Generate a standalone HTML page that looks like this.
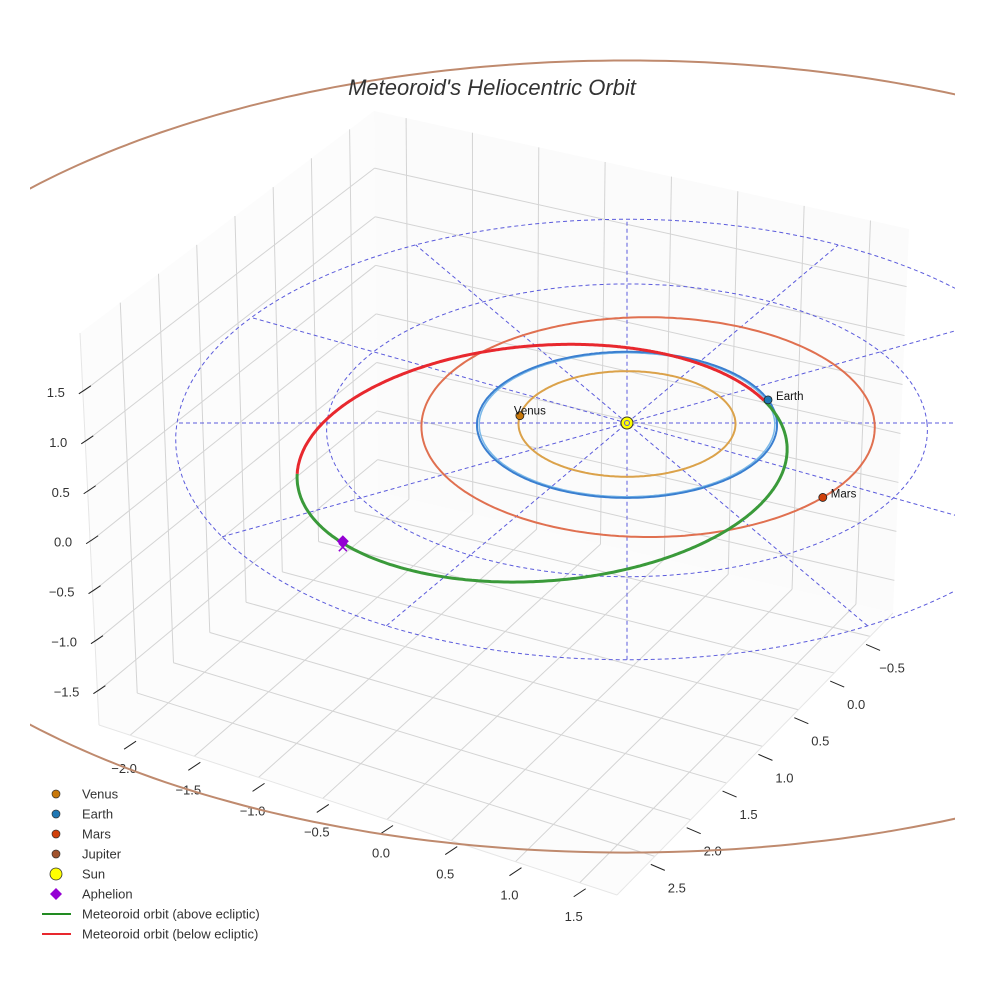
<!DOCTYPE html>
<html><head><meta charset="utf-8"><style>
html,body{margin:0;padding:0;background:#fff;}
svg{display:block;font-family:"Liberation Sans",sans-serif;}
</style></head><body>
<svg id="chart" width="984" height="984" viewBox="0 0 984 984">
<defs><clipPath id="clip"><rect x="30" y="0" width="925" height="984"/></clipPath></defs>
<g id="box"></g>
<g id="ticks"></g>
<g id="plot" clip-path="url(#clip)"></g>
<text x="492" y="95" text-anchor="middle" font-size="22" font-style="italic" fill="#333">Meteoroid's Heliocentric Orbit</text>
<g id="legend"></g>
</svg>
<script>
// ---- data ----
const planetNames = ["Venus","Earth","Mars","Jupiter"];
const planetA = [0.723, 1.0, 1.51, 5.4];
const planetE = [0.0, 0.0, 0.093, 0.05];
const planetPeriAngle = [0, 0, 180, 90];
const planetAngle = [188, -18.6, 38, 200];
const orbitColors = ["#dba24a","#3a7fd0","#e07050","#bf8a6e"];
const markerColors = ["#c8780a","#1f77b4","#d0400a","#a0522d"];
const meteorA = 1.68, meteorE = 0.435, meteorPeri = -41;
const redNu = [-156.6, 22.4];
const greenNu = [22.4, 203.4];
const gridRadii = [2, 3];
const radialAngles = [0,30,60,90,120,150];
const xTicks = [-2.0,-1.5,-1.0,-0.5,0.0,0.5,1.0,1.5];
const yTicks = [-0.5,0.0,0.5,1.0,1.5,2.0,2.5];
const zTicks = [-1.5,-1.0,-0.5,0.0,0.5,1.0,1.5];
const legendLabels = ["Venus","Earth","Mars","Jupiter","Sun","Aphelion","Meteoroid orbit (above ecliptic)","Meteoroid orbit (below ecliptic)"];

const NS="http://www.w3.org/2000/svg";
function mk(tag,attrs,parent){const e=document.createElementNS(NS,tag);for(const k in attrs)e.setAttribute(k,attrs[k]);parent.appendChild(e);return e;}
const CX=627, CY=423, SX=150, SY=73, P=0.025;
function proj(X,Y){const f=1/(1-P*Y);return [CX+SX*X*f, CY+SY*Y*f];}
function polar(r,thDeg){const t=thDeg*Math.PI/180;return proj(r*Math.cos(t), r*Math.sin(t));}
function conicR(a,e,nuDeg){return a*(1-e*e)/(1+e*Math.cos(nuDeg*Math.PI/180));}
function pathFrom(pts){return pts.map((p,i)=>(i?"L":"M")+p[0].toFixed(1)+","+p[1].toFixed(1)).join("");}

// ---- box ----
const box=document.getElementById('box');
const BT=[374,111], BB=[378,492], RT=[909,229], RB=[893,613], FT=[80,333], FB=[99,725], FR=[617,895];
const lerp=(a,b,t)=>[a[0]+(b[0]-a[0])*t,a[1]+(b[1]-a[1])*t];
mk('polygon',{points:[FT,BT,BB,FB].map(p=>p.join(',')).join(' '),fill:'#fcfcfc',stroke:'none'},box);
mk('polygon',{points:[BT,RT,RB,BB].map(p=>p.join(',')).join(' '),fill:'#fbfbfb',stroke:'none'},box);
mk('polygon',{points:[BB,RB,FR,FB].map(p=>p.join(',')).join(' '),fill:'#fcfcfc',stroke:'none'},box);
const xt=x=>0.06+(x+2)*0.248, yt=y=>0.083+(y+0.5)*0.26, zt=z=>0.15+(1.5-z)*0.255;
const gl={stroke:'#d4d4d4','stroke-width':1,fill:'none'};
function line(a,b,attrs,parent,name){const l=mk('line',Object.assign({x1:a[0],y1:a[1],x2:b[0],y2:b[1]},attrs),parent);return l;}
xTicks.forEach(x=>{const t=xt(x);
  line(lerp(BT,RT,t),lerp(BB,RB,t),gl,box,'back-grid-x');
  line(lerp(BB,RB,t),lerp(FB,FR,t),gl,box,'floor-grid-x');});
yTicks.forEach(y=>{const t=yt(y);
  line(lerp(BT,FT,t),lerp(BB,FB,t),gl,box,'left-grid-y');
  line(lerp(BB,FB,t),lerp(RB,FR,t),gl,box,'floor-grid-y');});
zTicks.forEach(z=>{const t=zt(z);
  const lf=lerp(FT,FB,t), lb=lerp(BT,BB,t), rb=lerp(RT,RB,t);
  line(lf,lb,gl,box,'left-grid-z'); line(lb,rb,gl,box,'back-grid-z');});
const el={stroke:'#e6e6e6','stroke-width':1};
line(FB,FR,el,box,'x-axis-line'); line(RB,FR,el,box,'y-axis-line'); line(FT,FB,el,box,'z-axis-line');

// ---- ticks ----
const tg=document.getElementById('ticks');
const tk={stroke:'#222','stroke-width':1};
xTicks.forEach((x,i)=>{const p=lerp(FB,FR,xt(x));
  line([p[0]+6,p[1]+6],[p[0]-6,p[1]+14],tk,tg,'x-tick');
  const t=mk('text',{x:p[0]-6,y:p[1]+38,'font-size':13,'text-anchor':'middle',fill:'#333'},tg);t.textContent=x.toFixed(1).replace('-','\u2212');
  });
yTicks.forEach(y=>{const p=lerp(RB,FR,yt(y));
  line([p[0]-4,p[1]+8],[p[0]+10,p[1]+14],tk,tg,'y-tick');
  const t=mk('text',{x:p[0]+22,y:p[1]+36,'font-size':13,'text-anchor':'middle',fill:'#333'},tg);t.textContent=y.toFixed(1).replace('-','\u2212');
  });
zTicks.forEach(z=>{const p=lerp(FT,FB,zt(z));
  line([p[0]+8,p[1]-6],[p[0]-4,p[1]+2],tk,tg,'z-tick');
  const t=mk('text',{x:p[0]-18,y:p[1]+5,'font-size':13,'text-anchor':'end',fill:'#333'},tg);t.textContent=z.toFixed(1).replace('-','\u2212');
  });

// ---- plot ----
const pg=document.getElementById('plot');
function ellipsePts(a,e,peri,n0,n1){const pts=[];const N=360;for(let i=0;i<=N;i++){const nu=n0+(n1-n0)*i/N;pts.push(polar(conicR(a,e,nu),peri+nu));}return pts;}
gridRadii.forEach(r=>{const p=mk('path',{d:pathFrom(ellipsePts(r,0,0,0,360))+'Z',fill:'none',stroke:'#5b5bdc','stroke-width':1,'stroke-dasharray':'4,3'},pg);
  });
radialAngles.forEach(a=>{const R=gridRadii[gridRadii.length-1];
  const p=mk('path',{d:pathFrom([polar(a===0?2*R:R,a),polar(R,a+180)]),fill:'none',stroke:'#5b5bdc','stroke-width':1,'stroke-dasharray':'4,3'},pg);
  });
planetNames.forEach((n,i)=>{
  if(n==='Earth'){const q=mk('path',{d:pathFrom(ellipsePts(planetA[i]*0.985,planetE[i],planetPeriAngle[i],0,360))+'Z',fill:'none',stroke:'#7ab8e8','stroke-width':1.5},pg);
    }
  const p=mk('path',{d:pathFrom(ellipsePts(planetA[i],planetE[i],planetPeriAngle[i],0,360))+'Z',fill:'none',stroke:orbitColors[i],'stroke-width':2},pg);
  });
const red=mk('path',{d:pathFrom(ellipsePts(meteorA,meteorE,meteorPeri,redNu[0],redNu[1])),fill:'none',stroke:'#e8282e','stroke-width':3},pg);

const green=mk('path',{d:pathFrom(ellipsePts(meteorA,meteorE,meteorPeri,greenNu[0],greenNu[1])),fill:'none',stroke:'#3a9a3a','stroke-width':3},pg);

planetNames.forEach((n,i)=>{
  const nu=planetAngle[i]-planetPeriAngle[i];
  const p=polar(conicR(planetA[i],planetE[i],nu),planetAngle[i]);
  const c=mk('circle',{cx:p[0],cy:p[1],r:4,fill:markerColors[i],stroke:'#222','stroke-width':0.8},pg);
  
  if(n!=='Jupiter'){const t=mk('text',{x:p[0]+(n==='Venus'?-6:8),y:p[1]+(n==='Venus'?-1:0),'font-size':11.5,fill:'#111'},pg);t.textContent=n;
    }});
const sun=mk('circle',{cx:CX,cy:CY,r:6,fill:'#ffff00',stroke:'#333','stroke-width':1},pg);

const sun2=mk('circle',{cx:CX,cy:CY,r:2.5,fill:'none',stroke:'#5b5bdc','stroke-width':1},pg);

const ap=polar(meteorA*(1+meteorE),meteorPeri+180);
const ax=mk('path',{d:`M${ap[0]-4},${ap[1]}L${ap[0]+4},${ap[1]+8}M${ap[0]+4},${ap[1]}L${ap[0]-4},${ap[1]+8}`,stroke:'#9400d3','stroke-width':1.5},pg);

const ad=mk('path',{d:`M${ap[0]},${ap[1]-8}L${ap[0]+6},${ap[1]-2}L${ap[0]},${ap[1]+4}L${ap[0]-6},${ap[1]-2}Z`,fill:'#9400d3'},pg);


// ---- legend ----
const lg=document.getElementById('legend');
legendLabels.forEach((lab,i)=>{const y=794+i*20;
  const g=mk('g',{},lg);
  if(i<4){mk('circle',{cx:56,cy:y,r:4,fill:markerColors[i],stroke:'#333','stroke-width':0.7},g);}
  else if(i===4){mk('circle',{cx:56,cy:y,r:6,fill:'#ffff00',stroke:'#333','stroke-width':0.8},g);}
  else if(i===5){mk('path',{d:`M56,${y-6}L62,${y}L56,${y+6}L50,${y}Z`,fill:'#9400d3'},g);}
  else {mk('line',{x1:42,y1:y,x2:71,y2:y,stroke:i===6?'#228b22':'#e8282e','stroke-width':2},g);}
  const t=mk('text',{x:82,y:y+4.5,'font-size':13,fill:'#333'},g);t.textContent=lab;});
</script>
</body></html>
